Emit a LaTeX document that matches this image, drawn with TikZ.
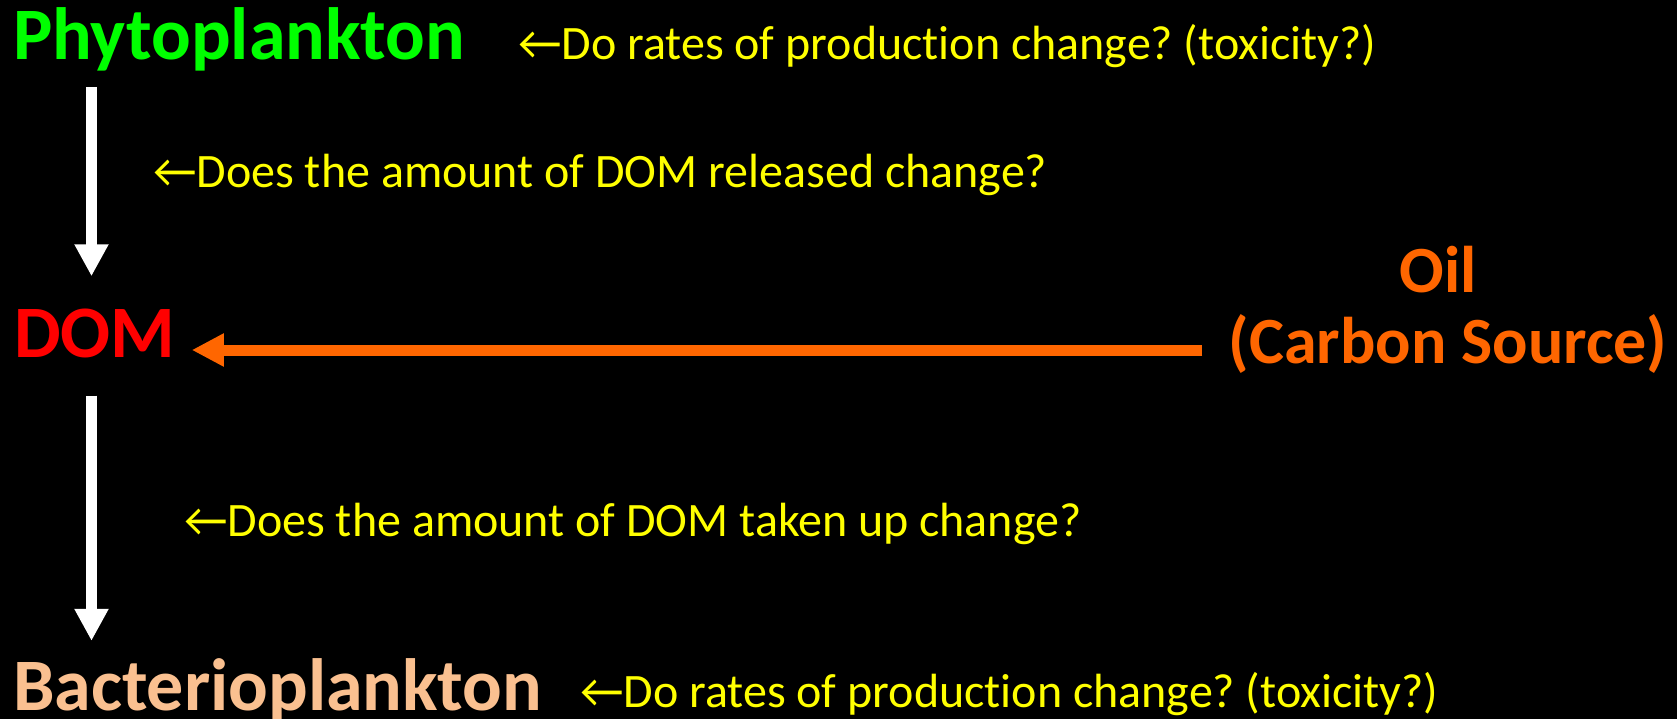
\documentclass[tikz,border=0pt]{standalone}
\usepackage{fontspec}
\setmainfont{Carlito}[Ligatures=NoCommon]
\frenchspacing
\usetikzlibrary{arrows.meta}
\definecolor{phytogreen}{HTML}{00FF00}
\definecolor{domred}{HTML}{FF0000}
\definecolor{oilorange}{HTML}{FF6600}
\definecolor{bactpeach}{HTML}{FAC090}
\definecolor{askyellow}{HTML}{FFFF00}
\tikzstyle{species} = [anchor=base west, inner sep=0pt, font=\fontsize{74}{80}\selectfont\bfseries]
\tikzstyle{question} = [anchor=base west, inner sep=0pt, text=askyellow, font=\fontsize{48}{54}\selectfont]
\tikzstyle{flow} = [white, line width=11pt, -{Triangle[width=32pt,length=32pt]}]
\tikzstyle{feed} = [oilorange, line width=11pt, -{Triangle[width=31pt,length=32pt]}]
\begin{document}
\begin{tikzpicture}[x=1pt,y=-1pt]
                        \fill[black] (0,0) rectangle (1677,719);
                        \useasboundingbox (0,0) rectangle (1677,719);
                        \coordinate (stem) at (91.5,0);
                        \node[species, text=phytogreen] (phyto) at (13,60) {Phytoplankton};
                        \node[question] (askphyto) at (518,60) {←Do rates of product\kern0pt ion change? (toxicity?)};
                        \node[question] (askrelease) at (153,188) {←Does the amount of DOM released change?};
                        \node[species, text=domred] (dom) at (14,357) {DOM};
                        \node[species, text=oilorange, anchor=center, align=center, font=\fontsize{66}{71}\selectfont\bfseries]
                            (oil) at (1448,310) {Oil\hspace*{0.3em}\\(Carbon Source)};
                        \node[question] (askuptake) at (184,536) {←Does the amount of DOM taken up change?};
                        \node[species, text=bactpeach] (bact) at (13,710) {Bacterioplankton};
                        \node[question] (askbact) at (580,707) {←Do rates of product\kern0pt ion change? (toxicity?)};
                        \draw[flow, shorten <=15pt, shorten >=32pt] (phyto.south -| stem) -- (dom.north -| stem);
                        \draw[flow, shorten <=38pt, shorten >=17pt] (dom.south -| stem) -- (bact.north -| stem);
                        \draw[feed, shorten <=26pt] (oil.west |- 0,350) -- ([xshift=16pt]dom.east |- 0,350);
                    \end{tikzpicture}
\end{document}
